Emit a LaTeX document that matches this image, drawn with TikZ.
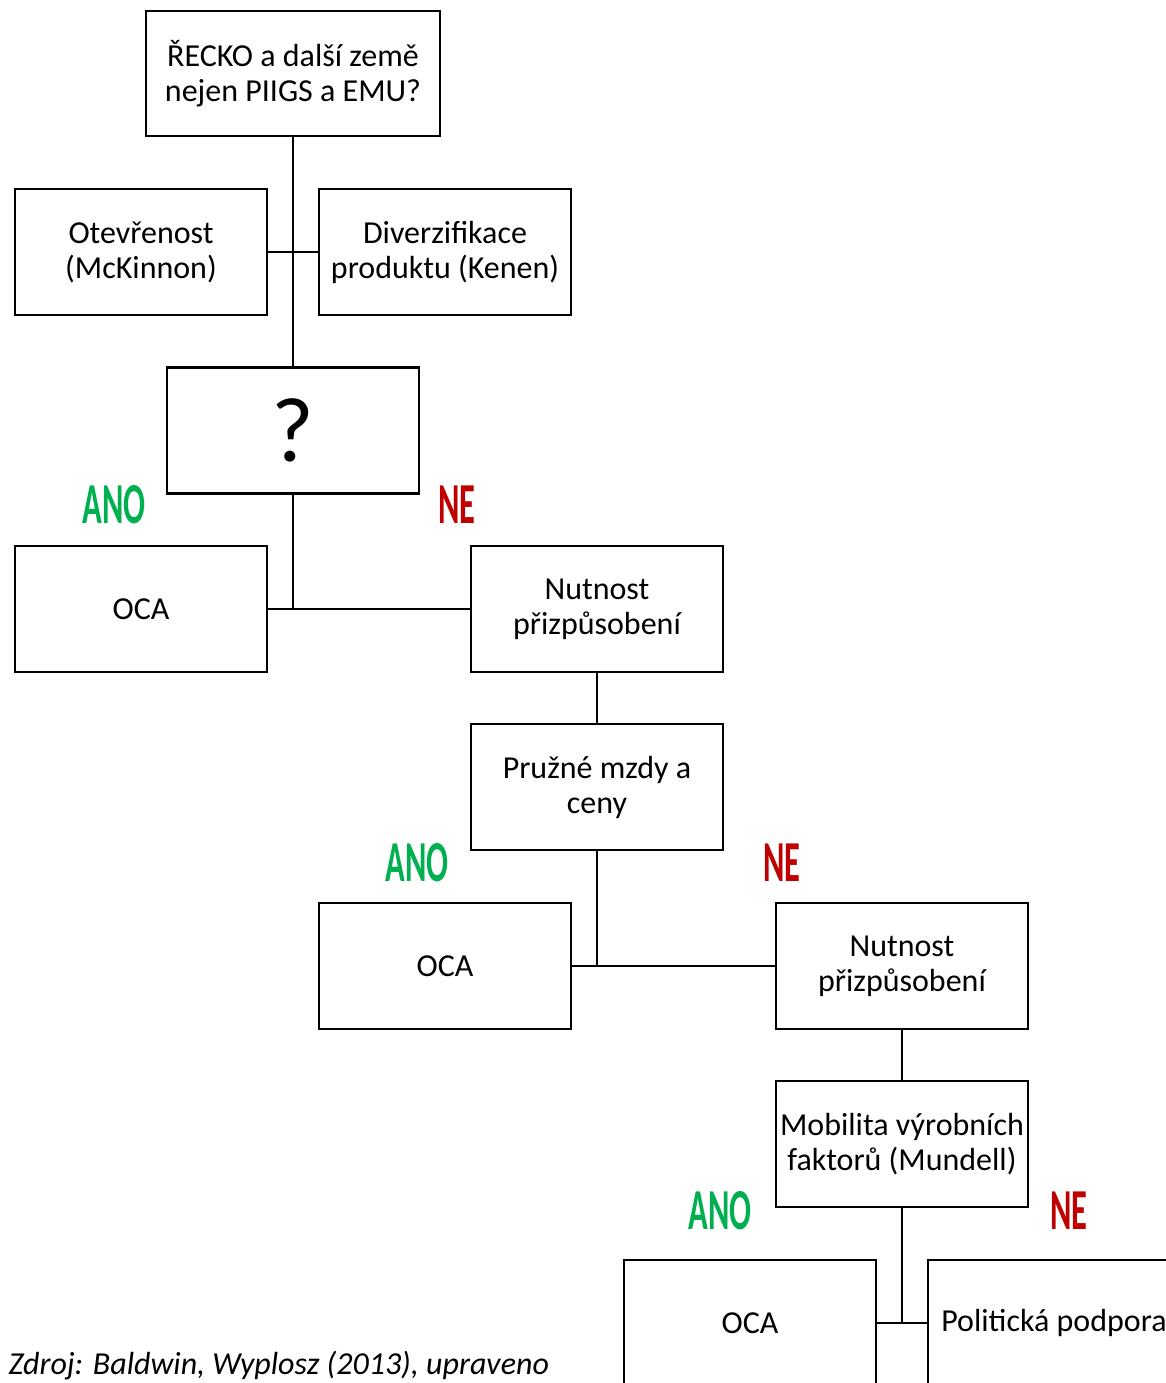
\documentclass[tikz,border=0pt]{standalone}
\usepackage{fontspec}
\usepackage{graphicx}
\setmainfont{Carlito}
\usetikzlibrary{positioning}

\definecolor{anogreen}{HTML}{00B050}
\definecolor{nered}{HTML}{C00000}
\newcommand{\squeeze}[1]{\scalebox{0.56}[1]{#1}}

\begin{document}
\begin{tikzpicture}[
  x=1pt, y=-1pt,
  every node/.style={font=\fontsize{32}{35}\selectfont},
  box/.style={draw=black, line width=2.6pt, align=center, inner sep=3pt,
    minimum width=252pt, minimum height=126pt},
  link/.style={line width=2.6pt},
  yes/.style={text=anogreen, font=\fontsize{58}{58}\selectfont\bfseries},
  no/.style={text=nered, font=\fontsize{58}{58}\selectfont\bfseries},
  note/.style={font=\fontsize{32}{35}\selectfont\itshape, anchor=base west},
]

\useasboundingbox (0,0) rectangle (1166,1383);
\clip (0,0) rectangle (1166,1383);

% question and criteria
\node[box, minimum width=294pt, minimum height=125pt] (top) at (293,73.5)
  {ŘECKO a další země\\nejen PIIGS a EMU?};
\node[box] (open) at (141,252) {Otevřenost\\(McKinnon)};
\node[box] (divers) at (445,252) {Diverzifikace\\produktu (Kenen)};
\node[box] (quest) at (293,430.5) {\fontsize{92}{92}\selectfont ?};

\draw[link] (top.south) -- (quest.north);
\draw[link] (open.east) -- (divers.west);

% first split
\node[box] (ocaA) at (141,609) {OCA};
\node[box] (needA) at (597,609) {Nutnost\\přizpůsobení};
\node[yes] (yesA) at (114,505) {\squeeze{ANO}};
\node[no] (noA) at (457,505) {\squeeze{NE}};

\draw[link] (quest.south) -- (quest.south |- ocaA.east);
\draw[link] (ocaA.east) -- (needA.west);

% wages and prices
\node[box] (wages) at (597,787) {Pružné mzdy a\\ceny};
\draw[link] (needA.south) -- (wages.north);

\node[box] (ocaB) at (445,966) {OCA};
\node[box] (needB) at (902,966) {Nutnost\\přizpůsobení};
\node[yes] (yesB) at (417,863) {\squeeze{ANO}};
\node[no] (noB) at (782,863) {\squeeze{NE}};

\draw[link] (wages.south) -- (wages.south |- ocaB.east);
\draw[link] (ocaB.east) -- (needB.west);

% factor mobility
\node[box] (mobil) at (902,1144) {Mobilita výrobních\\faktorů (Mundell)};
\draw[link] (needB.south) -- (mobil.north);

\node[box] (ocaC) at (750,1323) {OCA};
\node[box] (polit) at (1054,1323) {Politická podpora};
\node[yes] (yesC) at (720,1211) {\squeeze{ANO}};
\node[no] (noC) at (1069,1211) {\squeeze{NE}};

\draw[link] (mobil.south) -- (mobil.south |- ocaC.east);
\draw[link] (ocaC.east) -- (polit.west);

% source
\node[note] (source) at (5,1374) {Zdroj: Baldwin, Wyplosz (2013), upraveno};

\end{tikzpicture}
\end{document}
